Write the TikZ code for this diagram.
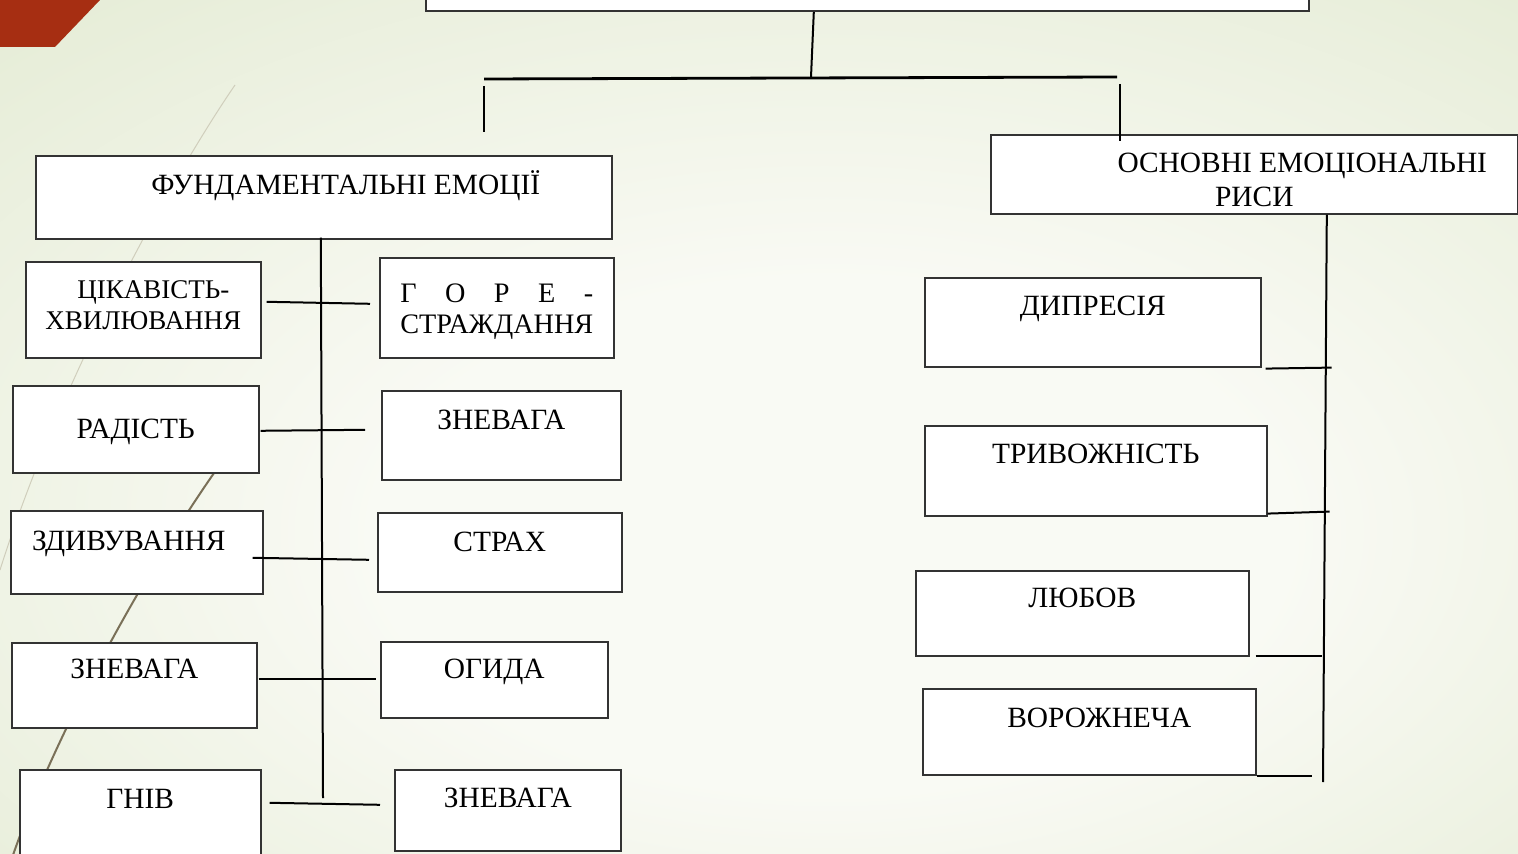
\documentclass[tikz,border=0pt]{standalone}
\usepackage{fontspec}
\setmainfont{Liberation Serif}
\usepackage{calc}
\usetikzlibrary{positioning,calc}

\definecolor{bgin}{RGB}{249,250,244}
\definecolor{bgout}{RGB}{222,231,203}
\definecolor{cornerred}{RGB}{166,46,18}
\definecolor{decoline}{RGB}{122,112,88}
\definecolor{decofaint}{RGB}{208,206,188}
\pgfdeclareradialshading{slidebg}{\pgfpoint{3bp}{-8bp}}{color(0bp)=(bgin); color(15bp)=(bgin); color(48bp)=(bgout); color(75bp)=(bgout)}

\begin{document}
\begin{tikzpicture}[x=0.5pt,y=-0.5pt]
\tikzset{
  ebox/.style={draw=black!80, fill=white, line width=0.8pt, anchor=north west, inner sep=0pt, align=center, font=\fontsize{14.7}{15.5}\selectfont},
  link/.style={line width=1pt, black}
}
\useasboundingbox (0,0) rectangle (1518,854);
\clip (0,0) rectangle (1518,854);

% slide background
\shade[shading=slidebg] (0,0) rectangle (1518,854);
\fill[cornerred] (0,0) -- (100,0) -- (55,47) -- (0,47) -- cycle;
\draw[decofaint, line width=0.5pt] (235,85) .. controls (170,180) and (60,380) .. (0,570);
\draw[decoline, line width=1pt] (240,437) .. controls (155,550) and (50,740) .. (8,870);

% top block and branching
\node[ebox, anchor=south west, minimum width=441.5pt, minimum height=25pt] (top) at (425,12) {};
\coordinate (hub) at (811,77);
\coordinate (hubL) at (484,79);
\coordinate (hubR) at (1117,77);

% groups
\node[ebox, minimum width=288pt, text height=19.5pt, text depth=22pt] (fund) at (35,155) {\hspace*{22pt}ФУНДАМЕНТАЛЬНІ ЕМОЦІЇ};
\node[ebox, minimum width=263.5pt, text height=36pt, text depth=3.5pt] (osn) at (990,134) {\hspace*{48pt}ОСНОВНІ ЕМОЦІОНАЛЬНІ\\[1.5pt]РИСИ};

% fundamental emotions, left column
\node[ebox, font=\fontsize{13.5}{15.5}\selectfont, minimum width=117.5pt, text height=34pt, text depth=14pt] (cik) at (25,261) {\hspace*{10pt}ЦІКАВІСТЬ-\\ХВИЛЮВАННЯ};
\node[ebox, minimum width=123pt, text height=26.5pt, text depth=17pt] (rad) at (12,385) {РАДІСТЬ};
\node[ebox, minimum width=126pt, text height=20pt, text depth=21.5pt] (zdyv) at (10,510) {ЗДИВУВАННЯ\hspace*{8pt}};
\node[ebox, minimum width=122.5pt, text height=18pt, text depth=24.5pt] (znevL) at (11,642) {ЗНЕВАГА};
\node[ebox, minimum width=120.5pt, text height=19.5pt, text depth=30.5pt] (gniv) at (19,769) {ГНІВ};

% fundamental emotions, right column
\node[ebox, font=\fontsize{14.1}{15.5}\selectfont, minimum width=117pt, text height=38pt, text depth=12pt] (gore) at (379,257) {\makebox[\widthof{СТРАЖДАННЯ}][s]{Г О Р Е -}\\СТРАЖДАННЯ};
\node[ebox, minimum width=119.5pt, text height=19.5pt, text depth=25pt] (znevA) at (381,390) {ЗНЕВАГА};
\node[ebox, minimum width=122pt, text height=19.5pt, text depth=20pt] (strah) at (377,512) {СТРАХ};
\node[ebox, minimum width=113.5pt, text height=18.5pt, text depth=19.5pt] (ogyda) at (380,641) {ОГИДА};
\node[ebox, minimum width=113pt, text height=19pt, text depth=21.5pt] (znevB) at (394,769) {ЗНЕВАГА};

% emotional traits
\node[ebox, minimum width=168pt, text height=19pt, text depth=25.5pt] (dypr) at (924,277) {ДИПРЕСІЯ};
\node[ebox, minimum width=171pt, text height=19pt, text depth=26pt] (tryv) at (924,425) {ТРИВОЖНІСТЬ};
\node[ebox, minimum width=166.5pt, text height=18.5pt, text depth=24pt] (lyub) at (915,570) {ЛЮБОВ};
\node[ebox, minimum width=166.5pt, text height=19.5pt, text depth=23.5pt] (vor) at (922,688) {\hspace*{10pt}ВОРОЖНЕЧА};

\coordinate (lbot) at (323,798);
\coordinate (rbot) at (1323,782);

% tree lines
\draw[link] ([shift={(-53.5,0)}]top.south) -- (hub);
\draw[link, line width=1.4pt] (hubL) -- (hubR);
\draw[link] ([yshift=-3.5pt]hubL) -- ([yshift=11.5pt]hubL |- fund.north);
\draw[link] ([shift={(3,7)}]hubR) -- ([shift={(3,7)}]hubR |- osn.north);
\draw[link] ([shift={(-3,-2)}]fund.south) -- (lbot);
\draw[link] ([shift={(72.5,0)}]osn.south) -- (rbot);

% left links
\draw[link] ([shift={(5,-8)}]cik.east) -- ([shift={(-9,-4)}]gore.west);
\draw[link] ([shift={(1,1.5)}]rad.east) -- ([shift={(-16,-5.5)}]znevA.west);
\draw[link] ([shift={(-11,5.5)}]zdyv.east) -- ([shift={(-8,7.5)}]strah.west);
\draw[link] ([shift={(1,-6.5)}]znevL.east) -- ([shift={(-4,-1)}]ogyda.west);
\draw[link] ([shift={(8,-17)}]gniv.east) -- ([shift={(-14,-5.5)}]znevB.west);

% right links
\draw[link] ([shift={(4,1)}]dypr.south east) -- ++(66,-1);
\draw[link] ([shift={(0,-3)}]tryv.south east) -- ++(62,-2);
\draw[link] ([shift={(6,-1)}]lyub.south east) -- ++(66,0);
\draw[link] (vor.south east) -- ++(55,0);
\end{tikzpicture}
\end{document}
